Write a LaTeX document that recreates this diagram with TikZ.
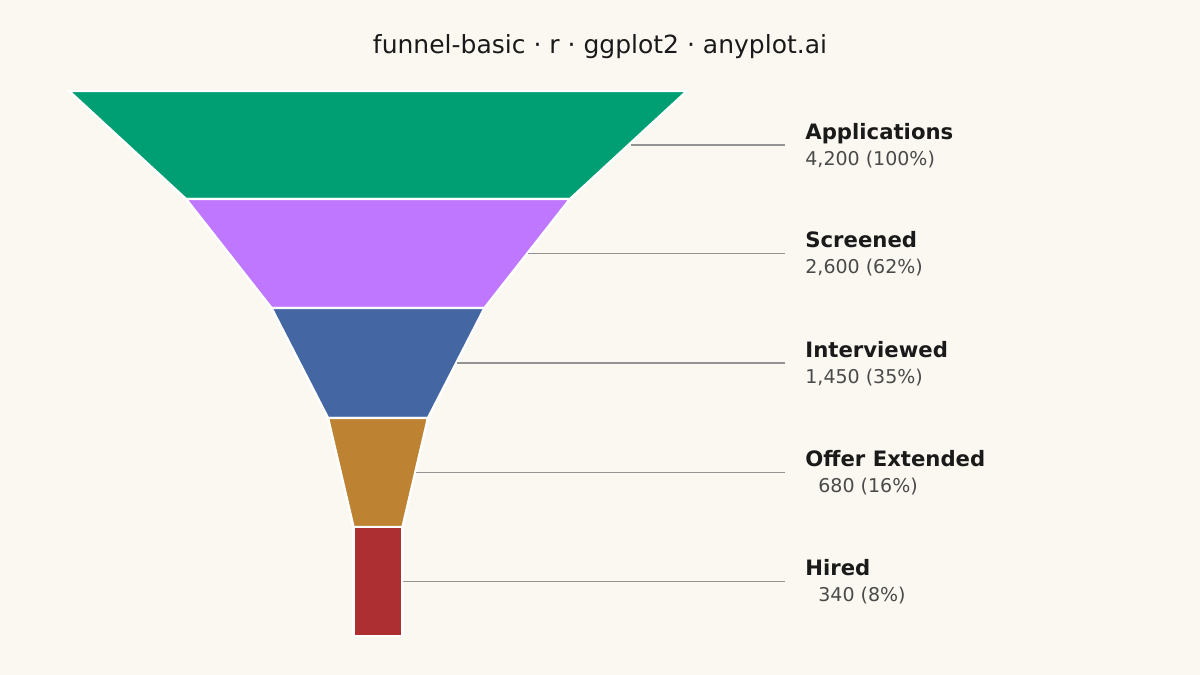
\documentclass[tikz,border=0pt]{standalone}
\usepackage{fontspec}
\setmainfont{DejaVu Sans}
\usetikzlibrary{positioning}
\definecolor{bg}{HTML}{FAF8F1}
\definecolor{stA}{HTML}{009E73}
\definecolor{stB}{HTML}{C077FF}
\definecolor{stC}{HTML}{4467A3}
\definecolor{stD}{HTML}{BD8232}
\definecolor{stE}{HTML}{AE2F31}
\definecolor{ink}{HTML}{1A1A1A}
\definecolor{subink}{HTML}{4A4A4A}

\begin{document}
\begin{tikzpicture}[x=0.5pt,y=-0.5pt,
stage/.style={draw=white,line width=1.2pt},
leader/.style={draw=gray!85,line width=0.6pt},
stagename/.style={anchor=base west,inner sep=0pt,font=\bfseries\fontsize{10.6}{12}\selectfont,text=ink},
stageval/.style={anchor=base west,inner sep=0pt,font=\fontsize{9.5}{11}\selectfont,text=subink}]
\fill[bg] (0,0) rectangle (1200,675);
\node (title) [text=ink,font=\fontsize{12.5}{14}\selectfont] at (600,47) {funnel-basic · r · ggplot2 · anyplot.ai};
% stages: colour / top y / bottom y / top half width / bottom half width / leader start / name / value / indent
\foreach \col/\ya/\yb/\wa/\wb/\xl/\lab/\val/\ind in {
  stA/91/199/309/192/631/Applications/{4,200 (100\%)}/805,
  stB/199/308/192/106.5/528/Screened/{2,600 (62\%)}/805,
  stC/308/418/106.5/50/457/Interviewed/{1,450 (35\%)}/805,
  stD/418/527/50/24.5/416/Offer Extended/{680 (16\%)}/818,
  stE/527/636/24.5/24.5/403/Hired/{340 (8\%)}/818} {
  \filldraw[stage,fill=\col] (378-\wa,\ya) -- (378+\wa,\ya) -- (378+\wb,\yb) -- (378-\wb,\yb) -- cycle;
  \coordinate (ls-\col) at (\xl,{(\ya+\yb)/2});
  \coordinate (le-\col) at (785,{(\ya+\yb)/2});
  \draw[leader] (ls-\col) -- (le-\col);
  \node (name-\col) [stagename] at (805,{(\ya+\yb)/2-6}) {\lab};
  \node (val-\col) [stageval] at (\ind,{(\ya+\yb)/2+20}) {\val};
}
\end{tikzpicture}
\end{document}
